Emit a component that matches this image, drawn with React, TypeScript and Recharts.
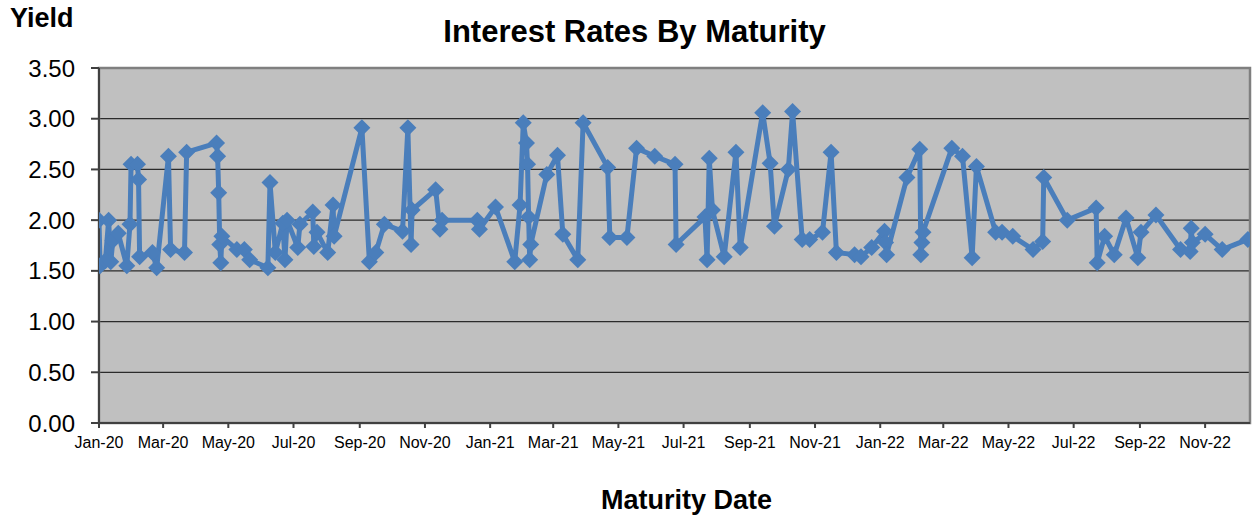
import { LineChart, Line, CartesianGrid, XAxis, YAxis, ReferenceArea } from "recharts";

// maturity dates and yields
const maturityDates = [
  "2020-01-01", "2020-01-02", "2020-01-07", "2020-01-10", "2020-01-12", "2020-01-14", "2020-01-19",
  "2020-01-27", "2020-01-30", "2020-01-31", "2020-02-06", "2020-02-07", "2020-02-08", "2020-02-20",
  "2020-02-24", "2020-03-06", "2020-03-08", "2020-03-21", "2020-03-23", "2020-04-20", "2020-04-21",
  "2020-04-22", "2020-04-23", "2020-04-24", "2020-04-25", "2020-05-09", "2020-05-16", "2020-05-21",
  "2020-06-07", "2020-06-09", "2020-06-14", "2020-06-21", "2020-06-23", "2020-06-25", "2020-07-05",
  "2020-07-07", "2020-07-19", "2020-07-20", "2020-07-23", "2020-08-02", "2020-08-07", "2020-08-08",
  "2020-09-03", "2020-09-10", "2020-09-16", "2020-09-24", "2020-10-11", "2020-10-16", "2020-10-19",
  "2020-10-20", "2020-11-11", "2020-11-15", "2020-11-17", "2020-12-20", "2020-12-22", "2021-01-06",
  "2021-01-24", "2021-01-29", "2021-02-01", "2021-02-04", "2021-02-05", "2021-02-06", "2021-02-07",
  "2021-02-08", "2021-02-23", "2021-03-05", "2021-03-10", "2021-03-24", "2021-03-29", "2021-04-21",
  "2021-04-23", "2021-05-09", "2021-05-18", "2021-06-04", "2021-06-23", "2021-06-24", "2021-07-21",
  "2021-07-23", "2021-07-25", "2021-07-28", "2021-08-08", "2021-08-19", "2021-08-23", "2021-09-13",
  "2021-09-20", "2021-09-24", "2021-10-07", "2021-10-11", "2021-10-20", "2021-10-27", "2021-11-08",
  "2021-11-16", "2021-11-21", "2021-12-08", "2021-12-14", "2021-12-24", "2022-01-05", "2022-01-06",
  "2022-01-07", "2022-01-26", "2022-02-07", "2022-02-08", "2022-02-09", "2022-02-10", "2022-03-09",
  "2022-03-19", "2022-03-28", "2022-04-01", "2022-04-19", "2022-04-25", "2022-05-05", "2022-05-24",
  "2022-06-02", "2022-06-03", "2022-06-25", "2022-07-22", "2022-07-23", "2022-07-30", "2022-08-08",
  "2022-08-19", "2022-08-30", "2022-09-02", "2022-09-16", "2022-10-09", "2022-10-18", "2022-10-19",
  "2022-10-20", "2022-11-01", "2022-11-17", "2022-12-11",
];

const yields = [
  2.0, 1.55, 1.6, 2.0, 1.59, 1.8, 1.87,
  1.55, 1.96, 2.55, 2.55, 2.4, 1.64, 1.68,
  1.53, 2.63, 1.71, 1.68, 2.67, 2.76, 2.63,
  2.27, 1.76, 1.58, 1.84, 1.71, 1.71, 1.61,
  1.53, 2.37, 1.68, 1.97, 1.61, 2.0, 1.73,
  1.96, 2.08, 1.74, 1.88, 1.68, 2.15, 1.84,
  2.91, 1.59, 1.68, 1.96, 1.89, 2.91, 1.76,
  2.1, 2.3, 1.91, 2.0, 2.0, 1.91, 2.13,
  1.59, 2.15, 2.96, 2.76, 2.55, 2.03, 1.61,
  1.76, 2.45, 2.64, 1.86, 1.61, 2.96, 2.52,
  1.83, 1.83, 2.71, 2.63, 2.55, 1.76, 2.03,
  1.61, 2.61, 2.1, 1.64, 2.67, 1.73, 3.06,
  2.56, 1.94, 2.5, 3.07, 1.81, 1.81, 1.88,
  2.67, 1.68, 1.66, 1.64, 1.73, 1.89, 1.78,
  1.66, 2.42, 2.7, 1.66, 1.78, 1.88, 2.71,
  2.63, 1.63, 2.53, 1.88, 1.88, 1.84, 1.71,
  1.79, 2.42, 2.0, 2.12, 1.58, 1.84, 1.66,
  2.02, 1.63, 1.88, 2.05, 1.71, 1.69, 1.92,
  1.78, 1.86, 1.71, 1.81,
];

const xTickDates = [
  "2020-01-01", "2020-03-01", "2020-05-01", "2020-07-01", "2020-09-01", "2020-11-01",
  "2021-01-01", "2021-03-01", "2021-05-01", "2021-07-01", "2021-09-01", "2021-11-01",
  "2022-01-01", "2022-03-01", "2022-05-01", "2022-07-01", "2022-09-01", "2022-11-01",
];

const yTicks = [0, 0.5, 1, 1.5, 2, 2.5, 3, 3.5];

const MONTHS = ["Jan", "Feb", "Mar", "Apr", "May", "Jun", "Jul", "Aug", "Sep", "Oct", "Nov", "Dec"];

const toTime = (s: string) => Date.parse(s + "T00:00:00Z");

const data = maturityDates.map((d, i) => ({ t: toTime(d), y: yields[i] }));
const xTicks = xTickDates.map(toTime);
const xDomain = [toTime("2020-01-01"), toTime("2022-12-13")];

const formatMonth = (t: number) => {
  const d = new Date(t);
  return `${MONTHS[d.getUTCMonth()]}-${String(d.getUTCFullYear()).slice(2)}`;
};

const FONT = '"Liberation Sans", Arial, sans-serif';
const BLUE = "#4A7EBB";

const Diamond = (props: { cx?: number; cy?: number; index?: number }) => {
  const { cx, cy, index } = props;
  if (cx == null || cy == null) return null;
  const r = 8.5;
  return (
    <path
      key={`d-${index}`}
      d={`M${cx},${cy - r}L${cx + r},${cy}L${cx},${cy + r}L${cx - r},${cy}Z`}
      fill={BLUE}
      stroke="none"
    />
  );
};

export default function App() {
  return (
    <div
      style={{
        position: "absolute",
        left: 0,
        top: 0,
        width: 1258,
        height: 516,
        background: "#fff",
        fontFamily: FONT,
        color: "#000",
      }}
    >
      <div
        style={{ position: "absolute", left: 10, top: 5, fontSize: 27, fontWeight: "bold", lineHeight: 1 }}
      >
        Yield
      </div>
      <div
        style={{
          position: "absolute",
          left: 0,
          width: 1269,
          top: 16,
          textAlign: "center",
          fontSize: 31,
          fontWeight: "bold",
          lineHeight: 1,
        }}
      >
        Interest Rates By Maturity
      </div>
      <div
        style={{
          position: "absolute",
          left: 0,
          width: 1373,
          top: 487,
          textAlign: "center",
          fontSize: 27,
          fontWeight: "bold",
          lineHeight: 1,
        }}
      >
        Maturity Date
      </div>
      <LineChart width={1258} height={516} data={data} margin={{ top: 68, right: 8, left: 0, bottom: 63 }}>
        <CartesianGrid vertical={false} fill="#C0C0C0" stroke="#2b2b2b" strokeWidth={1.2} />
        <ReferenceArea
          x1={xDomain[0]}
          x2={xDomain[1]}
          y1={0}
          y2={3.5}
          fill="none"
          fillOpacity={0}
          stroke="#7f7f7f"
          strokeWidth={2.5}
        />
        <XAxis
          dataKey="t"
          type="number"
          domain={xDomain}
          ticks={xTicks}
          interval={0}
          tickFormatter={formatMonth}
          allowDataOverflow
          height={30}
          tickSize={5}
          tickMargin={9}
          stroke="#404040"
          strokeWidth={2}
          tick={{ fill: "#000", fontSize: 16, fontFamily: FONT }}
        />
        <YAxis
          type="number"
          domain={[0, 3.5]}
          ticks={yTicks}
          interval={0}
          tickFormatter={(v: number) => v.toFixed(2)}
          width={99}
          tickSize={8}
          tickMargin={16}
          stroke="#404040"
          strokeWidth={2}
          tick={{ fill: "#000", fontSize: 24, fontFamily: FONT }}
        />
        <Line
          type="linear"
          dataKey="y"
          stroke={BLUE}
          strokeWidth={5}
          strokeLinejoin="round"
          dot={(p: any) => <Diamond key={`dot-${p.index}`} cx={p.cx} cy={p.cy} index={p.index} />}
          activeDot={false}
          isAnimationActive={false}
        />
      </LineChart>
    </div>
  );
}
